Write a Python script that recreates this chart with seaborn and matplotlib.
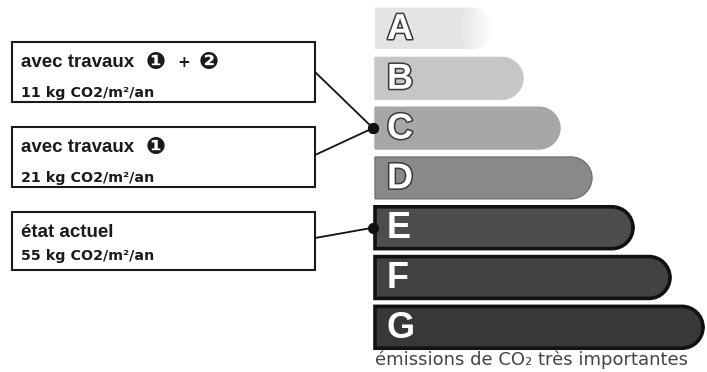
import matplotlib
matplotlib.use("Agg")
import numpy as np
import matplotlib.pyplot as plt
import matplotlib.patheffects as pe
from matplotlib.path import Path
from matplotlib.patches import PathPatch, Rectangle
from matplotlib.colors import LinearSegmentedColormap
import seaborn as sns

# classes and bar lengths (px from the left edge of the scale)
classes = ["A", "B", "C", "D", "E", "F", "G"]
bar_len = [118, 148, 185, 217, 258, 295, 328]
bar_colors = ["#e4e4e4", "#c6c6c6", "#a7a7a7", "#898989", "#4d4d4d", "#424242", "#383838"]
edge_colors = ["none", "#c6c6c6", "#a7a7a7", "#727272", "#111111", "#111111", "#111111"]

# boxes on the left
box_titles = ["avec travaux", "avec travaux", "\u00e9tat actuel"]
box_marks = [["\u2776", "+", "\u2777"], ["\u2776"], []]
box_values = ["11 kg CO2/m\u00b2/an", "21 kg CO2/m\u00b2/an", "55 kg CO2/m\u00b2/an"]
box_class = ["C", "C", "E"]
footer = "\u00e9missions de CO\u2082 tr\u00e8s importantes"

sns.set_theme(style="white")
plt.rcParams["font.family"] = ["Liberation Sans", "DejaVu Sans"]

W, H = 707, 372
fig = plt.figure(figsize=(W / 100, H / 100), dpi=100)
fig.patch.set_facecolor("white")

# bar scale axes: x in px, 7 rows of ~49.8 px
left, top, width, row = 375, 3.6, 332, 49.8
ax = fig.add_axes([left / W, 1 - (top + 7 * row) / H, width / W, 7 * row / H])
sns.barplot(x=bar_len, y=classes, hue=classes, palette=bar_colors, legend=False,
            orient="h", width=0.84, ax=ax)
ax.set_xlim(0, width)
ax.set_ylim(6.5, -0.5)
ax.axis("off")


def rounded_right(x0, y0, w, h, rx, ry):
    x1, y1 = x0 + w, y0 + h
    k = 0.5523
    verts = [(x0, y0), (x1 - rx, y0),
             (x1 - rx + k * rx, y0), (x1, y0 + ry - k * ry), (x1, y0 + ry),
             (x1, y1 - ry),
             (x1, y1 - ry + k * ry), (x1 - rx + k * rx, y1), (x1 - rx, y1),
             (x0, y1), (x0, y0)]
    codes = [Path.MOVETO, Path.LINETO, Path.CURVE4, Path.CURVE4, Path.CURVE4,
             Path.LINETO, Path.CURVE4, Path.CURVE4, Path.CURVE4, Path.LINETO,
             Path.CLOSEPOLY]
    return Path(verts, codes)


r_px = 21
for i, p in enumerate(list(ax.patches)):
    x0, y0, w, h = p.get_x(), p.get_y(), p.get_width(), p.get_height()
    fc = p.get_facecolor()
    p.remove()
    lw = 2.6 if i >= 4 else 1.0
    shape = PathPatch(rounded_right(x0, y0, w, h, r_px, r_px / row),
                      facecolor=fc, edgecolor=edge_colors[i], lw=lw, clip_on=False)
    ax.add_patch(shape)
    if i == 0:
        # the lightest class fades out towards its end
        shape.set_facecolor("none")
        fade = LinearSegmentedColormap.from_list(
            "fade", [(0, fc), (0.72, fc), (1, "white")])
        grad = ax.imshow(np.linspace(0, 1, 200)[None, :], cmap=fade, aspect="auto",
                         extent=(x0, x0 + w, y0 + h, y0), interpolation="bilinear")
        grad.set_clip_path(shape)
        ax.set_xlim(0, width)
        ax.set_ylim(6.5, -0.5)
    txt = ax.text(12, y0 + h / 2 + 0.02, classes[i], color="white", fontsize=26,
                  fontweight="bold", family="Liberation Sans", ha="left", va="center",
                  zorder=5)
    if i < 4:
        txt.set_path_effects([pe.withStroke(linewidth=2.2, foreground="#3a3a3a")])

# overlay axes in pixel coordinates for the boxes and leader lines
ov = fig.add_axes([0, 0, 1, 1], facecolor="none")
ov.set_xlim(0, W)
ov.set_ylim(H, 0)
ov.axis("off")

box_tops = [42, 127, 212]
box_heights = [60, 60, 58]
value_off = [55, 55, 48]
box_anchor = [72, 155, 238]
mark_x = [146, 177, 199]
for i in range(3):
    bt = box_tops[i]
    ov.add_patch(Rectangle((12, bt), 303, box_heights[i], facecolor="white",
                           edgecolor="#1a1a1a", lw=1.5))
    ov.text(21, bt + 25, box_titles[i], fontsize=13.5, fontweight="bold",
            color="#1a1a1a", va="baseline")
    for j, m in enumerate(box_marks[i]):
        plus = m == "+"
        ov.text(mark_x[j], bt + (25 if plus else 27), m, fontsize=11 if plus else 17,
                fontweight="bold", family="DejaVu Sans", color="#1a1a1a",
                va="baseline")
    ov.text(21, bt + value_off[i], box_values[i], fontsize=10.3, fontweight="bold",
            family="DejaVu Sans", color="#1a1a1a", va="baseline")
    k = classes.index(box_class[i])
    target_y = top + (k + 0.5) * row
    ov.plot([315, 373], [box_anchor[i], target_y], color="#111111", lw=1.3)
    ov.plot([373], [target_y], "o", color="#111111", ms=7)

ov.text(375, 365, footer, fontsize=13, color="#444444", family="DejaVu Sans",
        va="baseline")

fig.savefig("out.png", dpi=100, facecolor="white")
